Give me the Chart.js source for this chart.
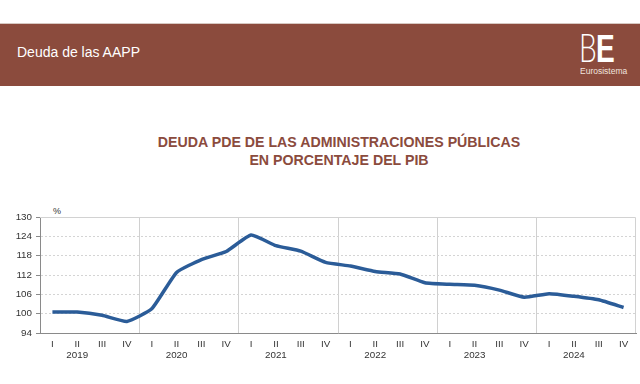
<!DOCTYPE html>
<html>
<head>
<meta charset="utf-8">
<script src="https://cdn.jsdelivr.net/npm/chart.js@4"></script>
<style>
  body { margin: 0; background: #fff; font-family: "Liberation Sans", Arial, sans-serif; }
  #page { position: relative; width: 640px; height: 384px; overflow: hidden; }
  #band { position: absolute; left: 0; top: 23px; width: 640px; height: 62px; background: #8b4b3d; border-top: 1px solid #d6c8c2; }
  #band .name { position: absolute; left: 17px; top: 20px; color: #fff; font-size: 14px; }
  #logo { position: absolute; left: 579px; top: 4px; color: #fff; font-size: 39px; line-height: 39px; letter-spacing: -1px; transform: scaleX(0.72); transform-origin: left top; }
  #logo b { font-weight: bold; font-family: "Liberation Sans", Arial, sans-serif; }
  #logo span { font-weight: 300; font-family: Lato, "Liberation Sans", sans-serif; }
  #euro { position: absolute; left: 580px; top: 42px; color: #f1e4df; font-size: 8.5px; }
  #title { position: absolute; left: 0; width: 678px; top: 134px; text-align: center; color: #8b4b3d; font-weight: bold; font-size: 14.2px; line-height: 17.5px; }
  #pct { position: absolute; left: 53px; top: 206px; font-size: 9px; color: #333; }
  #wrap { position: absolute; left: 0; top: 200px; width: 640px; height: 170px; }
</style>
</head>
<body>
<div id="page">
  <div id="band">
    <div class="name">Deuda de las AAPP</div>
    <div id="logo"><span>B</span><b>E</b></div>
    <div id="euro">Eurosistema</div>
  </div>
  <div id="title">DEUDA PDE DE LAS ADMINISTRACIONES PÚBLICAS<br>EN PORCENTAJE DEL PIB</div>
  <div id="pct">%</div>
  <div id="wrap"><canvas id="chart"></canvas></div>
</div>
<script>
// quarters 2019 Q1 .. 2024 Q4
const years = ['2019', '2020', '2021', '2022', '2023', '2024'];
const quarters = ['I', 'II', 'III', 'IV'];
const debtRatio = [
  100.5, 100.5, 99.5, 97.6,
  101.5, 112.8, 116.8, 119.3,
  124.4, 121.1, 119.4, 115.9,
  114.8, 113.1, 112.3, 109.6,
  109.1, 108.8, 107.3, 105.1,
  106.2, 105.4, 104.3, 101.9
];
const yMin = 94, yMax = 130, yStep = 6;

const labels = [];
years.forEach(y => {
  quarters.forEach((q, i) => {
    labels.push([q, i === 1 ? y : '']);
  });
});

const tickFont = { family: '"Liberation Sans", Arial, sans-serif', size: 9.8 };

// light frame on top and right of the plot
const frame = {
  id: 'frame',
  afterDraw(chart) {
    const { ctx, chartArea: a } = chart;
    ctx.save();
    ctx.strokeStyle = '#d2d2d2';
    ctx.lineWidth = 1;
    ctx.beginPath();
    ctx.moveTo(a.left, a.top + 0.5);
    ctx.lineTo(a.right - 0.5, a.top + 0.5);
    ctx.lineTo(a.right - 0.5, a.bottom);
    ctx.stroke();
    ctx.restore();
  }
};

new Chart(document.getElementById('chart'), {
  type: 'line',
  data: {
    labels: labels,
    datasets: [{
      data: debtRatio,
      borderColor: '#2b5c98',
      borderWidth: 3.5,
      pointRadius: 0,
      tension: 0.15,
      fill: false
    }]
  },
  options: {
    responsive: true,
    maintainAspectRatio: false,
    animation: false,
    layout: { padding: { top: 17, right: 4, left: 0, bottom: 0 } },
    plugins: { legend: { display: false }, tooltip: { enabled: false } },
    scales: {
      x: {
        type: 'category',
        offset: true,
        grid: {
          offset: true,
          drawTicks: false,
          color: ctx => (ctx.index % 4 === 0 ? '#d0d0d0' : 'transparent')
        },
        border: { color: '#8a8a8a' },
        ticks: {
          autoSkip: false,
          maxRotation: 0,
          padding: 5,
          color: '#333',
          font: tickFont
        },
        afterFit: s => { s.height = 37; }
      },
      y: {
        min: yMin,
        max: yMax,
        grid: { color: '#d4d4d4', tickLength: 4, tickColor: '#8a8a8a' },
        border: { color: '#8a8a8a', dash: [2, 2] },
        ticks: {
          stepSize: yStep,
          padding: 4,
          color: '#333',
          font: tickFont
        },
        afterFit: s => { s.width = 40; }
      }
    }
  },
  plugins: [frame]
});
</script>
</body>
</html>
